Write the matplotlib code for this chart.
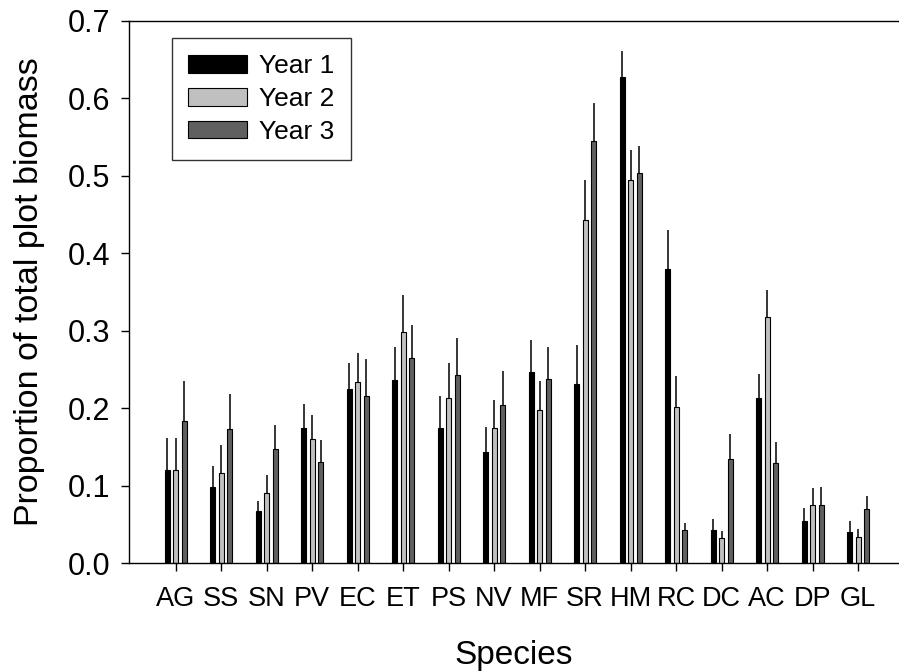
import matplotlib
matplotlib.use("Agg")
import matplotlib.pyplot as plt
import numpy as np

plt.rcParams["font.family"] = ["Liberation Sans", "DejaVu Sans"]

species = ["AG", "SS", "SN", "PV", "EC", "ET", "PS", "NV",
           "MF", "SR", "HM", "RC", "DC", "AC", "DP", "GL"]

# mean proportion per year
year1 = [0.120, 0.099, 0.068, 0.175, 0.225, 0.237, 0.174, 0.144,
         0.247, 0.231, 0.627, 0.380, 0.043, 0.213, 0.055, 0.040]
year2 = [0.120, 0.117, 0.091, 0.160, 0.234, 0.299, 0.213, 0.175,
         0.198, 0.443, 0.495, 0.201, 0.032, 0.318, 0.075, 0.034]
year3 = [0.183, 0.173, 0.147, 0.131, 0.216, 0.265, 0.243, 0.204,
         0.238, 0.545, 0.503, 0.043, 0.134, 0.130, 0.075, 0.070]

# upper standard error (drawn upward only)
se1 = [0.041, 0.027, 0.012, 0.031, 0.033, 0.042, 0.042, 0.032,
       0.041, 0.051, 0.034, 0.050, 0.014, 0.031, 0.016, 0.015]
se2 = [0.041, 0.035, 0.023, 0.031, 0.037, 0.047, 0.045, 0.035,
       0.037, 0.051, 0.038, 0.041, 0.010, 0.034, 0.022, 0.010]
se3 = [0.052, 0.045, 0.032, 0.028, 0.047, 0.043, 0.048, 0.044,
       0.041, 0.049, 0.035, 0.009, 0.033, 0.026, 0.024, 0.017]

series = [("Year 1", year1, se1, "black"),
          ("Year 2", year2, se2, "#c0c0c0"),
          ("Year 3", year3, se3, "#606060")]

x = np.arange(len(species))
width = 0.11
offsets = [-0.187, 0.0, 0.187]

fig = plt.figure(figsize=(8.99, 6.72), dpi=100)
ax = fig.add_axes([0.1435, 0.1618, 0.8565, 0.8074])

for (name, vals, err, col), off in zip(series, offsets):
    ax.bar(x + off, vals, width, color=col, edgecolor="black",
           linewidth=0.8, label=name, zorder=2)
    ax.errorbar(x + off, vals, yerr=[np.zeros(len(err)), err], fmt="none",
                ecolor="black", elinewidth=1.1, capsize=0, zorder=1)

ax.set_xlim(-1.026, 15.9)
ax.set_ylim(0, 0.7)
ax.set_yticks(np.arange(0, 0.71, 0.1))
ax.set_yticklabels([f"{v:.1f}" for v in np.arange(0, 0.71, 0.1)])
ax.set_xticks(x)
ax.set_xticklabels(species)

ax.spines["right"].set_visible(False)
for s in ["left", "top", "bottom"]:
    ax.spines[s].set_linewidth(1.0)
ax.tick_params(axis="y", direction="out", length=5.5, width=1.0,
               labelsize=22, pad=8)
ax.tick_params(axis="x", direction="out", length=5.5, width=1.0,
               labelsize=19.5, pad=11)

ax.set_ylabel("Proportion of total plot biomass", fontsize=24.5, labelpad=16)
ax.set_xlabel("Species", fontsize=24, labelpad=20)

leg = ax.legend(loc="upper left", bbox_to_anchor=(0.0558, 0.968),
                borderaxespad=0, fontsize=19, frameon=True, fancybox=False,
                handlelength=2.23, handleheight=0.64, handletextpad=0.45,
                labelspacing=0.33, borderpad=0.62)
leg.get_frame().set_edgecolor("black")
leg.get_frame().set_linewidth(1.0)

fig.savefig("out.png", dpi=100)
